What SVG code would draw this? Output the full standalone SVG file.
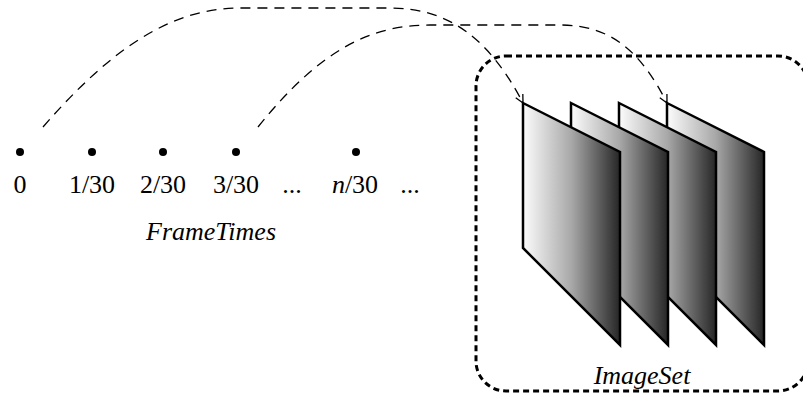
<svg xmlns="http://www.w3.org/2000/svg" width="803" height="396" viewBox="0 0 803 396">
<style>
text{font-family:'Liberation Serif','Times New Roman','DejaVu Serif',serif;font-size:26px;fill:#000;text-anchor:middle}
.it{font-style:italic}
.frame{stroke:#000;stroke-width:2.5;stroke-linejoin:miter;fill:url(#g)}
.conn{fill:none;stroke:#000;stroke-width:1.3;stroke-dasharray:10,7}
.dot{fill:#000}
</style>
<defs>
<linearGradient id="g" x1="0" y1="0" x2="1" y2="0">
<stop offset="0" stop-color="#fcfcfc"/>
<stop offset="0.5" stop-color="#a8a8a8"/>
<stop offset="1" stop-color="#262626"/>
</linearGradient>
<marker id="arr" markerWidth="12" markerHeight="12" refX="10" refY="6" orient="auto" markerUnits="userSpaceOnUse">
<path d="M2,2 L10,6 L2,10" fill="none" stroke="#000" stroke-width="1.3"/>
</marker>
</defs>
<g id="imageset">
<rect x="476" y="56" width="332" height="335" rx="30" fill="none" stroke="#000" stroke-width="3" stroke-dasharray="6,4"/>
<text class="it" x="642" y="384" font-family="Liberation Serif, serif" font-size="26">ImageSet</text>
</g>
<g id="frames">
<polygon class="frame" points="667,103 764,152 764,345 667,248"/>
<polygon class="frame" points="619,103 716,152 716,345 619,248"/>
<polygon class="frame" points="571,103 668,152 668,345 571,248"/>
<polygon class="frame" points="523,103 620,152 620,345 523,248"/>
</g>
<g id="frametimes" font-family="Liberation Serif, serif" font-size="26">
<circle class="dot" cx="20" cy="152" r="4"/>
<circle class="dot" cx="92" cy="152" r="4"/>
<circle class="dot" cx="163" cy="152" r="4"/>
<circle class="dot" cx="236" cy="152" r="4"/>
<circle class="dot" cx="356" cy="152" r="4"/>
<text x="20" y="193">0</text>
<text x="92" y="193">1/30</text>
<text x="163" y="193">2/30</text>
<text x="236" y="193">3/30</text>
<text x="292" y="193">...</text>
<text x="355" y="193"><tspan class="it">n</tspan>/30</text>
<text x="410" y="193">...</text>
<text class="it" x="211" y="240">FrameTimes</text>
</g>
<g id="connectors">
<path class="conn" d="M43,127 C110,50 170,8 240,8 L390,8 C450,8 490,40 523,103" marker-end="url(#arr)"/>
<path class="conn" d="M258,127 C320,50 370,25 430,25 L560,25 C610,25 640,50 667,103" marker-end="url(#arr)"/>
</g>
</svg>
